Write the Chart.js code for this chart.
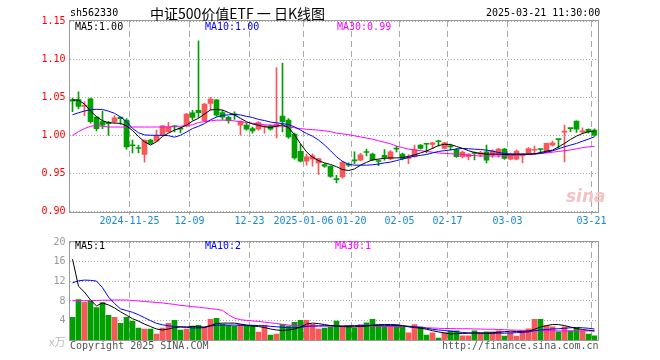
<!DOCTYPE html>
<html>
<head>
<meta charset="utf-8">
<title>中证500价值ETF 日K线图</title>
<style>
    body { margin: 0; background: #fff; }
    #wrap { position: relative; width: 660px; height: 360px; overflow: hidden; background: #fff; }
    canvas { position: absolute; left: 0; }
    .t { position: absolute; font: 10px 'DejaVu Sans Mono', monospace; line-height: 12px; white-space: pre; }
    .cn { font: 14px 'Noto Sans CJK SC', sans-serif; line-height: 16px; }
    .logo { position: absolute; left: 566px; top: 186px; font: italic bold 17px 'DejaVu Sans', sans-serif; color: #f4c4c4; }
</style>
</head>
<body>
<div id="wrap">
    <canvas id="kChart" width="660" height="232" style="top:0;width:660px;height:232px"></canvas>
    <canvas id="volChart" width="660" height="128" style="top:232px;width:660px;height:128px"></canvas>

    <div class="t" style="left:70px;top:7px">sh562330</div>
    <div class="t cn" style="left:150px;top:5px">中证500价值ETF 一 日K线图</div>
    <div class="t" style="left:486px;top:7px">2025-03-21 11:30:00</div>

    <div class="t" style="left:75px;top:21px;color:#000">MA5:1.00</div>
    <div class="t" style="left:205px;top:21px;color:#0000ff">MA10:1.00</div>
    <div class="t" style="left:337px;top:21px;color:#ff00ff">MA30:0.99</div>

    <div class="t" style="left:75px;top:240px;color:#000">MA5:1</div>
    <div class="t" style="left:205px;top:240px;color:#0000ff">MA10:2</div>
    <div class="t" style="left:335px;top:240px;color:#ff00ff">MA30:1</div>

    <div class="t cn" style="left:49px;top:333px;font-size:11px;color:#bbb">x万</div>
    <div class="t" style="left:70px;top:340px;color:#555">Copyright 2025 SINA.COM</div>
    <div class="t" style="left:442px;top:340px;color:#555">http://finance.sina.com.cn</div>
    <div class="logo">sina</div>
</div>

<script src="https://cdn.jsdelivr.net/npm/chart.js"></script>
<script>
    // trading days shown on the chart
    const dates = [
        '2024-11-11','2024-11-12','2024-11-13','2024-11-14','2024-11-15','2024-11-18','2024-11-19','2024-11-20','2024-11-21','2024-11-22',
        '2024-11-25','2024-11-26','2024-11-27','2024-11-28','2024-11-29','2024-12-02','2024-12-03','2024-12-04','2024-12-05','2024-12-06',
        '2024-12-09','2024-12-10','2024-12-11','2024-12-12','2024-12-13','2024-12-16','2024-12-17','2024-12-18','2024-12-19','2024-12-20',
        '2024-12-23','2024-12-24','2024-12-25','2024-12-26','2024-12-27','2024-12-30','2024-12-31','2025-01-02','2025-01-03','2025-01-06',
        '2025-01-07','2025-01-08','2025-01-09','2025-01-10','2025-01-13','2025-01-14','2025-01-15','2025-01-16','2025-01-17','2025-01-20',
        '2025-01-21','2025-01-22','2025-01-23','2025-01-24','2025-01-27','2025-02-05','2025-02-06','2025-02-07','2025-02-10','2025-02-11',
        '2025-02-12','2025-02-13','2025-02-14','2025-02-17','2025-02-18','2025-02-19','2025-02-20','2025-02-21','2025-02-24','2025-02-25',
        '2025-02-26','2025-02-27','2025-02-28','2025-03-03','2025-03-04','2025-03-05','2025-03-06','2025-03-07','2025-03-10','2025-03-11',
        '2025-03-12','2025-03-13','2025-03-14','2025-03-17','2025-03-18','2025-03-19','2025-03-20','2025-03-21'
    ];
    // labelled ticks on the date axis
    const tickIdx = [10, 20, 30, 39, 47, 55, 63, 73, 87];
    const tickText = ['2024-11-25', '12-09', '12-23', '2025-01-06', '01-20', '02-05', '02-17', '03-03', '03-21'];

    const open = [
        1.047,1.047,1.038,1.048,1.024,1.018,1.016,1.018,1.024,1.020,
        0.987,0.9832,0.975,0.9938,0.9925,1.0004,1.0047,1.0126,1.0085,1.0122,
        1.0297,1.033,1.0192,1.042,1.0465,1.030,1.0237,1.0275,1.0136,1.0136,
        1.009,1.0083,1.011,1.0127,1.0113,1.0254,1.0201,1.0017,0.9793,0.9662,
        0.9688,0.964,0.9618,0.9596,0.9425,0.9455,0.9615,0.9668,0.9675,0.9778,
        0.9754,0.9662,0.974,0.9692,0.9822,0.9754,0.970,0.972,0.9873,0.9886,
        0.9882,0.9919,0.983,0.9865,0.9816,0.972,0.972,0.9765,0.975,0.9785,
        0.9746,0.9754,0.982,0.9689,0.9689,0.9730,0.9763,0.9805,0.9818,0.9798,
        0.9873,0.9947,1.0044,1.0092,1.0189,1.0046,1.0079,1.0070
    ];
    const high = [
        1.049,1.057,1.044,1.049,1.025,1.032,1.0185,1.026,1.024,1.022,
        0.994,0.987,0.994,0.995,1.007,1.013,1.0171,1.013,1.011,1.029,
        1.033,1.124,1.042,1.050,1.047,1.033,1.025,1.031,1.019,1.016,
        1.011,1.018,1.013,1.014,1.089,1.0947,1.022,1.003,0.9886,0.9754,
        0.976,0.970,0.963,0.9605,0.9478,0.966,0.964,0.9784,0.9765,0.982,
        0.977,0.968,0.9816,0.980,0.986,0.977,0.975,0.9873,0.988,0.989,
        0.991,0.9939,0.991,0.9885,0.983,0.9795,0.976,0.9785,0.979,0.9873,
        0.981,0.983,0.983,0.977,0.981,0.9763,0.984,0.986,0.9825,0.990,
        0.9925,0.9947,1.0136,1.0092,1.019,1.010,1.0088,1.0088
    ];
    const low = [
        1.031,1.035,1.026,1.016,1.006,1.009,1.000,1.016,1.0145,0.982,
        0.977,0.977,0.965,0.989,0.992,1.000,1.0047,1.0047,1.0034,1.011,
        1.020,1.0237,1.018,1.033,1.025,1.021,1.016,1.021,1.0004,1.007,
        1.003,1.007,1.003,1.007,0.9968,1.0047,0.996,0.969,0.9653,0.961,
        0.9596,0.949,0.958,0.945,0.9376,0.944,0.959,0.963,0.9665,0.9732,
        0.967,0.9605,0.9675,0.968,0.9785,0.968,0.963,0.971,0.982,0.977,
        0.9825,0.986,0.982,0.981,0.971,0.9705,0.968,0.968,0.972,0.964,
        0.971,0.9715,0.9685,0.968,0.968,0.964,0.975,0.977,0.977,0.978,
        0.986,0.983,0.9653,1.0048,1.004,1.002,1.003,0.999
    ];
    const close = [
        1.045,1.038,1.039,1.018,1.009,1.0136,1.0155,1.023,1.022,0.985,
        0.9864,0.9829,0.994,0.9895,0.9995,1.0126,1.0113,1.0113,1.0083,1.028,
        1.0237,1.0297,1.0412,1.0478,1.0267,1.024,1.0195,1.027,1.018,1.0083,
        1.006,1.0167,1.0125,1.0083,1.0149,1.018,0.998,0.9705,0.9662,0.9718,
        0.9732,0.9697,0.9596,0.9464,0.9421,0.9648,0.961,0.9666,0.9745,0.9776,
        0.968,0.9658,0.971,0.9784,0.982,0.9697,0.972,0.9816,0.983,0.9884,
        0.9904,0.9917,0.9904,0.985,0.972,0.978,0.9754,0.9763,0.9776,0.9675,
        0.9798,0.982,0.9697,0.9754,0.9794,0.9733,0.9829,0.9808,0.9816,0.9895,
        0.9904,0.9945,1.0048,1.009,1.0083,1.0048,1.0048,1.0004
    ];
    // price moving averages as drawn on the reference
    const ma5 = [
        1.0465,1.0463,1.041,1.032,1.0245,1.0193,1.0167,1.0162,1.0158,1.0125,
        1.0065,0.9986,0.9917,0.9873,0.9917,0.9986,1.003,1.007,1.0098,1.0136,
        1.0187,1.0225,1.028,1.0335,1.034,1.0333,1.030,1.0268,1.0224,1.018,
        1.015,1.0132,1.0114,1.0105,1.012,1.014,1.0105,1.0008,0.989,0.9785,
        0.9715,0.967,0.964,0.962,0.959,0.9553,0.954,0.956,0.961,0.9647,
        0.968,0.969,0.970,0.9705,0.9705,0.971,0.9725,0.9745,0.977,0.9796,
        0.983,0.9868,0.9884,0.9881,0.9855,0.983,0.980,0.9776,0.9763,0.9754,
        0.9754,0.9754,0.975,0.975,0.9752,0.9754,0.9754,0.9759,0.9776,0.9794,
        0.9807,0.985,0.9895,0.9947,0.9991,1.0026,1.0048,1.0053
    ];
    const ma10 = [
        1.027,1.0297,1.032,1.0338,1.0342,1.034,1.0318,1.029,1.0242,1.018,
        1.0092,1.0035,1.0007,1.0002,1.0002,1.000,0.9997,0.9977,1.0002,1.0045,
        1.009,1.012,1.0155,1.0205,1.024,1.0262,1.027,1.0276,1.0268,1.025,
        1.0235,1.021,1.0195,1.0175,1.0165,1.0155,1.0142,1.0112,1.007,1.0026,
        0.999,0.994,0.9875,0.980,0.972,0.966,0.9622,0.961,0.961,0.961,
        0.9615,0.9625,0.964,0.965,0.967,0.969,0.971,0.9728,0.9738,0.975,
        0.977,0.979,0.980,0.981,0.9822,0.9829,0.9825,0.982,0.9816,0.9807,
        0.9794,0.9776,0.9763,0.9757,0.9755,0.9755,0.9755,0.9757,0.9763,0.978,
        0.9798,0.9825,0.9851,0.9873,0.9895,0.9925,0.9952,0.9982
    ];
    const ma30 = [
        1.000,1.005,1.009,1.012,1.013,1.012,1.011,1.011,1.011,1.011,
        1.011,1.011,1.011,1.011,1.011,1.011,1.011,1.012,1.012,1.013,
        1.014,1.017,1.018,1.019,1.020,1.020,1.020,1.019,1.018,1.017,
        1.016,1.015,1.014,1.0135,1.013,1.012,1.011,1.010,1.009,1.008,
        1.0075,1.007,1.006,1.005,1.003,1.002,1.001,0.9995,0.998,0.9965,
        0.995,0.993,0.991,0.989,0.986,0.984,0.982,0.981,0.980,0.979,
        0.978,0.977,0.9765,0.976,0.9755,0.975,0.974,0.9735,0.973,0.973,
        0.973,0.973,0.973,0.9735,0.974,0.9745,0.975,0.9755,0.9765,0.977,
        0.978,0.979,0.980,0.981,0.9825,0.984,0.985,0.9855
    ];

    // volume (万)
    const volume = [
        4.67,8.27,7.73,7.93,6.67,7.67,5.07,4.67,3.47,4.67,
        3.87,2.47,2.27,2.27,1.27,2.47,3.47,4.07,2.07,2.27,
        2.87,3.07,2.67,4.27,4.47,3.27,3.07,2.87,3.27,3.07,
        3.07,1.67,3.07,1.07,1.27,3.27,2.87,3.67,4.07,4.07,
        3.27,2.27,2.47,2.73,3.93,2.73,2.93,2.53,3.2,3.53,
        4.27,3.13,2.93,2.93,3.13,2.73,1.53,3.2,2.73,1.07,
        1.53,0.47,1.53,1.93,1.93,0.93,0.93,1.93,1.53,1.73,
        1.73,1.93,0.87,1.53,0.87,1.93,2.33,4.27,4.27,2.93,
        2.73,1.73,2.73,1.93,2.53,1.93,1.27,0.93
    ];
    const volMa5 = [
        16.5,11.0,9.8,8.2,7.0,7.6,7.2,6.6,5.8,5.1,
        4.4,3.9,3.3,2.8,2.3,2.1,2.3,2.6,2.7,2.7,
        2.8,2.7,2.7,3.0,3.4,3.5,3.5,3.5,3.3,3.1,
        2.9,2.8,2.6,2.3,2.1,2.0,2.1,2.3,2.7,3.3,
        3.5,3.4,3.2,3.0,2.9,2.8,2.75,2.75,2.8,2.9,
        3.05,3.15,3.2,3.2,3.15,3.0,2.75,2.6,2.45,2.25,
        1.95,1.7,1.5,1.3,1.35,1.4,1.45,1.5,1.5,1.45,
        1.55,1.65,1.75,1.85,1.8,1.8,1.85,2.25,2.7,3.0,
        3.2,3.2,3.0,2.7,2.4,2.2,2.05,1.9
    ];
    const volMa10 = [
        11.7,12.1,12.25,12.2,12.05,10.7,8.8,7.5,6.4,6.05,
        5.7,5.2,4.6,4.0,3.45,3.15,2.95,2.8,2.75,2.65,
        2.5,2.5,2.6,2.9,3.05,3.1,3.1,3.1,3.05,3.05,
        3.05,3.0,2.95,2.85,2.75,2.65,2.55,2.55,2.65,2.85,
        2.9,2.95,2.95,3.0,2.9,2.9,2.95,3.0,3.0,3.0,
        3.05,3.05,3.05,3.0,3.0,2.95,2.85,2.75,2.6,2.45,
        2.25,2.1,2.0,1.85,1.75,1.6,1.5,1.45,1.45,1.4,
        1.4,1.45,1.45,1.5,1.55,1.6,1.7,1.95,2.1,2.2,
        2.3,2.35,2.45,2.55,2.6,2.55,2.45,2.3
    ];
    const volMa30 = [
        8.05,8.05,8.05,8.1,8.1,8.15,8.15,8.2,8.2,8.2,
        8.1,8.0,7.9,7.8,7.7,7.6,7.45,7.3,7.1,7.0,
        6.85,6.75,6.6,6.45,6.3,6.1,5.2,4.5,4.2,4.05,
        3.95,3.85,3.7,3.55,3.4,3.25,3.1,3.0,2.95,2.9,
        2.9,2.9,2.9,2.9,2.9,2.9,2.9,2.9,2.9,2.9,
        2.9,2.9,2.85,2.85,2.8,2.8,2.8,2.7,2.65,2.55,
        2.5,2.45,2.4,2.4,2.35,2.35,2.35,2.3,2.3,2.25,
        2.25,2.2,2.15,2.1,2.05,2.05,2.0,2.0,1.95,1.95,
        1.95,1.9,1.9,1.9,1.9,1.9,1.9,1.9
    ];

    const UP = '#f85858';
    const DOWN = '#00a000';
    const GRID = '#aaaaaa';
    const MONO = "'DejaVu Sans Mono', monospace";
    const candleColors = close.map((c, i) => c >= open[i] ? UP : DOWN);

    // solid box round the plot area
    const boxPlugin = {
        id: 'box',
        afterDraw(chart) {
            const a = chart.chartArea;
            const ctx = chart.ctx;
            ctx.save();
            ctx.strokeStyle = '#999';
            ctx.lineWidth = 1;
            ctx.strokeRect(Math.round(a.left) - 0.5, Math.round(a.top) - 0.5,
                Math.round(a.right - a.left) + 1, Math.round(a.bottom - a.top) + 1);
            ctx.restore();
        }
    };

    function xAxis(showLabels, height) {
        return {
            type: 'category',
            offset: true,
            grid: {
                offset: true,
                color: c => tickIdx.includes(c.index) ? GRID : 'transparent',
                tickColor: c => tickIdx.includes(c.index) ? GRID : 'transparent',
                tickLength: 3,
                drawTicks: showLabels
            },
            border: { display: false, dash: [6, 4] },
            ticks: {
                display: showLabels,
                autoSkip: false,
                maxRotation: 0,
                padding: 1,
                labelOffset: -3,
                color: '#1a88d6',
                font: { family: MONO, size: 10 },
                callback: (v, i) => {
                    const k = tickIdx.indexOf(i);
                    return k < 0 ? '' : tickText[k];
                }
            },
            afterFit: s => { s.height = height; }
        };
    }

    new Chart(document.getElementById('kChart'), {
        type: 'bar',
        data: {
            labels: dates,
            datasets: [
                { label: 'wick', data: dates.map((d, i) => [low[i], high[i]]), backgroundColor: candleColors,
                  barThickness: 1, grouped: false, order: 3 },
                { label: 'body', data: dates.map((d, i) => [open[i], close[i]]), backgroundColor: candleColors,
                  barThickness: 5, minBarLength: 1, grouped: false, order: 2 },
                { type: 'line', label: 'MA5', data: ma5, borderColor: '#000', borderWidth: 1, pointRadius: 0, order: 1 },
                { type: 'line', label: 'MA10', data: ma10, borderColor: '#0000ff', borderWidth: 1, pointRadius: 0, order: 1 },
                { type: 'line', label: 'MA30', data: ma30, borderColor: '#ff00ff', borderWidth: 1, pointRadius: 0, order: 1 }
            ]
        },
        options: {
            responsive: false,
            animation: false,
            devicePixelRatio: 1,
            layout: { padding: { left: 0, right: 62.5, top: 21, bottom: 0 } },
            plugins: { legend: { display: false }, tooltip: { enabled: false } },
            scales: {
                x: xAxis(true, 20.3),
                y: {
                    min: 0.9,
                    max: 1.15,
                    ticks: { stepSize: 0.05, padding: 4, color: '#ff0000',
                             font: { family: MONO, size: 10 }, callback: v => v.toFixed(2) },
                    grid: { color: GRID, drawTicks: false },
                    border: { display: false, dash: [1, 2] },
                    afterFit: s => { s.width = 69.5; }
                }
            }
        },
        plugins: [boxPlugin]
    });

    new Chart(document.getElementById('volChart'), {
        type: 'bar',
        data: {
            labels: dates,
            datasets: [
                { label: 'volume', data: volume, backgroundColor: candleColors, barThickness: 5, order: 2 },
                { type: 'line', label: 'MA5', data: volMa5, borderColor: '#000', borderWidth: 1, pointRadius: 0, order: 1 },
                { type: 'line', label: 'MA10', data: volMa10, borderColor: '#0000ff', borderWidth: 1, pointRadius: 0, order: 1 },
                { type: 'line', label: 'MA30', data: volMa30, borderColor: '#ff00ff', borderWidth: 1, pointRadius: 0, order: 1 }
            ]
        },
        options: {
            responsive: false,
            animation: false,
            devicePixelRatio: 1,
            layout: { padding: { left: 0, right: 62.5, top: 8.3, bottom: 0 } },
            plugins: { legend: { display: false }, tooltip: { enabled: false } },
            scales: {
                x: xAxis(false, 19.7),
                y: {
                    min: 0,
                    max: 20,
                    ticks: { stepSize: 4, padding: 4, color: '#999',
                             font: { family: MONO, size: 10 }, callback: v => v === 0 ? '' : v },
                    grid: { color: GRID, drawTicks: false },
                    border: { display: false, dash: [1, 2] },
                    afterFit: s => { s.width = 69.5; }
                }
            }
        },
        plugins: [boxPlugin]
    });
</script>
</body>
</html>
